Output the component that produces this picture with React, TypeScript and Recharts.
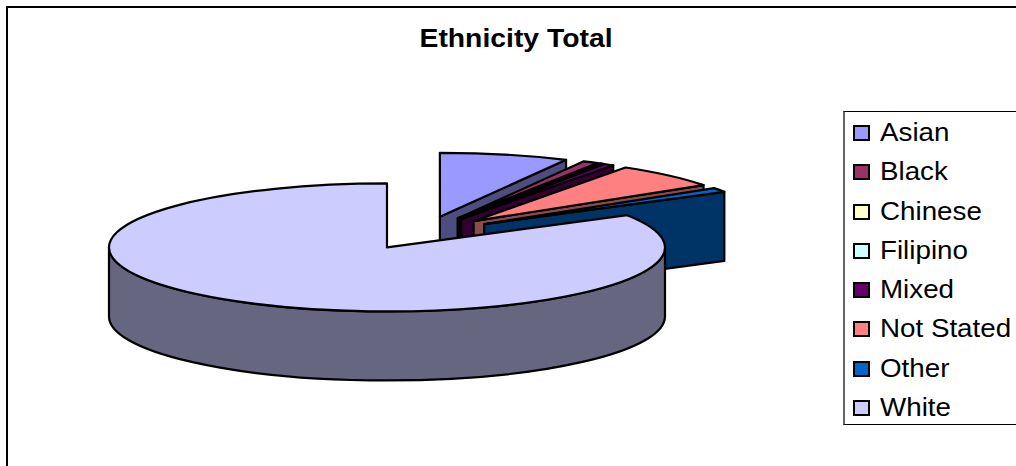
import { Legend, Pie, PieChart } from "recharts";

const categories = ["Asian", "Black", "Chinese", "Filipino", "Mixed", "Not Stated", "Other", "White"];
// shares in percent
const shares = [7.5, 0.9, 0.1, 0.1, 0.6, 6.3, 1.1, 83.4];
const fills = ["#9999FF", "#993366", "#FFFFCC", "#CCFFFF", "#660066", "#FF8080", "#0066CC", "#CCCCFF"];
const sides = ["#4D4D80", "#4D1A33", "#808066", "#668080", "#330033", "#8C4C4C", "#003366", "#666680"];

const TILT = 64 / 278;
const DEPTH = 69;
const EXPLODE = 0.26;
const LINE = "#000";

const tableData = categories.map((name, i) => ({
  name,
  value: shares[i],
  fill: fills[i],
  side: sides[i],
}));

// Excel style 3D slice, drawn from the angles that Pie hands over
function Slice3D(props: any) {
  const { cx, cy, outerRadius, startAngle, endAngle, payload } = props;
  const fill = payload.fill;
  const side = payload.side;
  const a = outerRadius;
  const b = outerRadius * TILT;
  const t1 = 90 - startAngle;
  const t2 = 90 - endAngle;
  const mid = (((t1 + t2) / 2) * Math.PI) / 180;
  const ox = cx + EXPLODE * a * Math.sin(mid);
  const oy = cy - EXPLODE * b * Math.cos(mid);
  const pt = (deg: number, drop = 0) => {
    const r = (deg * Math.PI) / 180;
    return `${ox + a * Math.sin(r)} ${oy - b * Math.cos(r) + drop}`;
  };
  const large = t2 - t1 > 180 ? 1 : 0;
  const top = `M${ox} ${oy} L${pt(t1)} A${a} ${b} 0 ${large} 1 ${pt(t2)} Z`;
  const endFace = `M${ox} ${oy} L${pt(t2)} L${pt(t2, DEPTH)} L${ox} ${oy + DEPTH} Z`;
  const r1 = Math.max(t1, 90);
  const r2 = Math.min(t2, 270);
  const rim =
    r2 > r1
      ? `M${pt(r1)} A${a} ${b} 0 0 1 ${pt(r2)} L${pt(r2, DEPTH)} A${a} ${b} 0 0 0 ${pt(r1, DEPTH)} Z`
      : null;
  return (
    <g stroke={LINE} strokeWidth={2.2} strokeLinejoin="round">
      {t2 < 180 && <path d={endFace} fill={side} />}
      {rim && <path d={rim} fill={side} />}
      <path d={top} fill={fill} />
    </g>
  );
}

function LegendBox({ payload }: any) {
  return (
    <div
      style={{
        width: 200,
        height: 314,
        boxSizing: "border-box",
        borderTop: "1.5px solid #000",
        borderBottom: "1.5px solid #000",
        borderLeft: "2px solid #666",
        paddingTop: 1,
        background: "#fff",
      }}
    >
      {(payload || []).map((entry: any) => (
        <div key={entry.value} style={{ height: 39.3, position: "relative" }}>
          <span
            style={{
              position: "absolute",
              left: 8,
              top: 12,
              width: 13,
              height: 12,
              background: entry.payload?.fill ?? entry.color,
              border: "2px solid #000",
            }}
          />
          <span
            style={{
              position: "absolute",
              left: 35,
              top: 6,
              fontFamily: "Liberation Sans",
              fontSize: 25,
              lineHeight: "27px",
              color: "#000",
              whiteSpace: "nowrap",
              transform: "scaleX(1.11)",
              transformOrigin: "left",
            }}
          >
            {entry.value}
          </span>
        </div>
      ))}
    </div>
  );
}

export default function App() {
  return (
    <div style={{ position: "fixed", left: 0, top: 0, width: 1016, height: 466, overflow: "hidden", background: "#fff" }}>
      <div style={{ position: "absolute", left: 6, top: 6, width: 1016, height: 466, borderLeft: "2px solid #000", borderTop: "2px solid #000" }} />
      <div style={{ position: "absolute", left: 0, top: 0 }}>
        <PieChart width={1016} height={466} margin={{ top: 0, right: 0, bottom: 0, left: 0 }}>
          <text
            x={516}
            y={47}
            textAnchor="middle"
            textLength={193}
            lengthAdjust="spacingAndGlyphs"
            fontFamily="Liberation Sans"
            fontWeight="bold"
            fontSize={25}
            fill="#000"
          >
            Ethnicity Total
          </text>
          <Pie
            data={tableData}
            dataKey="value"
            nameKey="name"
            cx={423}
            cy={233}
            outerRadius={278}
            startAngle={90}
            endAngle={-270}
            stroke="none"
            isAnimationActive={false}
            shape={Slice3D}
            rootTabIndex={-1}
          />
          <Legend
            layout="vertical"
            align="right"
            verticalAlign="top"
            content={LegendBox}
            wrapperStyle={{ position: "absolute", left: 843, top: 111, width: 200 }}
          />
        </PieChart>
      </div>
    </div>
  );
}
